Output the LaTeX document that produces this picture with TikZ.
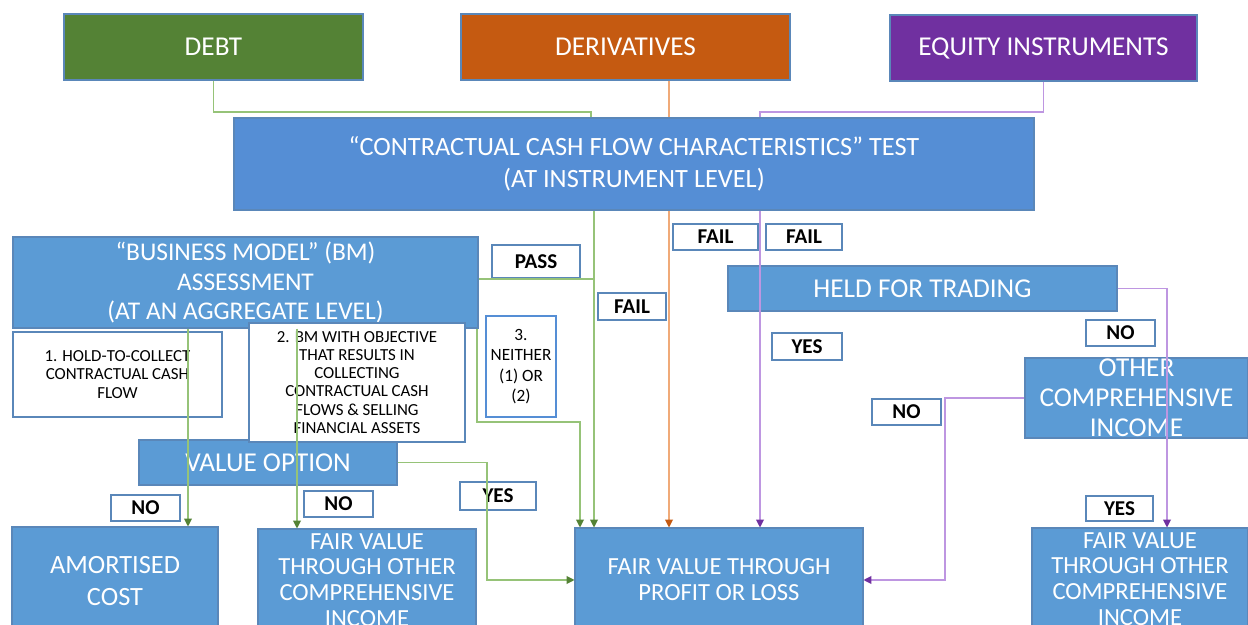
\documentclass[tikz,border=0pt]{standalone}
\usepackage{fontspec}
\setmainfont{Carlito}
\usetikzlibrary{arrows.meta}

\definecolor{debtgreen}{RGB}{84,130,53}
\definecolor{derivorange}{RGB}{197,90,17}
\definecolor{equitypurple}{RGB}{112,48,160}
\definecolor{boxblue}{RGB}{91,155,213}
\definecolor{testblue}{RGB}{85,142,213}
\definecolor{boxline}{RGB}{90,135,185}
\definecolor{greenline}{RGB}{150,195,120}
\definecolor{orangeline}{RGB}{240,170,120}
\definecolor{purpleline}{RGB}{190,150,225}

\tikzset{
  box/.style={draw=boxline, line width=0.6pt, fill=boxblue, text=white,
    inner sep=0pt, align=center},
  note/.style={draw=boxline, line width=0.6pt, fill=white, inner sep=0pt,
    align=center, font=\fontsize{9.6}{10.3}\selectfont},
  tag/.style={draw=boxline, line width=0.6pt, fill=white, inner sep=0pt,
    font=\bfseries\fontsize{12}{14}\selectfont},
  link/.style={line width=0.6pt},
}

\begin{document}
\begin{tikzpicture}
  \useasboundingbox (0,0) rectangle (24.96,12.5);
  \clip (0,0) rectangle (24.96,12.5);

  % instrument classes
  \node[box, fill=debtgreen, minimum width=5.98cm, minimum height=1.32cm,
    font=\fontsize{15.5}{18}\selectfont] (debt) at (4.27,11.56) {DEBT};
  \node[box, fill=derivorange, minimum width=6.58cm, minimum height=1.32cm,
    font=\fontsize{15.5}{18}\selectfont] (deriv) at (12.51,11.56) {DERIVATIVES};
  \node[box, fill=equitypurple, minimum width=6.14cm, minimum height=1.32cm,
    font=\fontsize{15.5}{18}\selectfont] (equity) at (20.87,11.54) {EQUITY INSTRUMENTS};

  % tests
  \node[box, fill=testblue, minimum width=16cm, minimum height=1.84cm,
    font=\fontsize{15}{18.2}\selectfont] (ccfc) at (12.68,9.22)
    {“CONTRACTUAL CASH FLOW CHARACTERISTICS” TEST\\(AT INSTRUMENT LEVEL)};
  \node[box, minimum width=9.3cm, minimum height=1.82cm,
    font=\fontsize{14.5}{17}\selectfont] (bm) at (4.91,6.85)
    {“BUSINESS MODEL” (BM)\\ASSESSMENT\\(AT AN AGGREGATE LEVEL)};
  \node[box, minimum width=7.78cm, minimum height=0.9cm,
    font=\fontsize{15.5}{18}\selectfont] (hft) at (18.45,6.73) {HELD FOR TRADING};
  \node[box, minimum width=4.46cm, minimum height=1.6cm,
    font=\fontsize{15.5}{17}\selectfont] (oci) at (22.73,4.54)
    {OTHER\\COMPREHENSIVE\\INCOME};
  \node[box, minimum width=5.16cm, minimum height=0.9cm,
    font=\fontsize{15.5}{18}\selectfont] (vo) at (5.36,3.25) {VALUE OPTION};

  % business models
  \node[note, minimum width=4.18cm, minimum height=1.7cm] (hold) at (2.35,5.01)
    {1. HOLD-TO-COLLECT\\CONTRACTUAL CASH\\FLOW};
  \node[note, minimum width=4.32cm, minimum height=2.38cm] (both) at (7.14,4.85)
    {2. BM WITH OBJECTIVE\\THAT RESULTS IN\\COLLECTING\\CONTRACTUAL CASH\\FLOWS \& SELLING\\FINANCIAL ASSETS};
  \node[note, draw=testblue, line width=1.2pt, minimum width=1.4cm,
    minimum height=2.02cm, font=\fontsize{9.8}{11.6}\selectfont] (neither)
    at (10.42,5.17) {3.\\NEITHER\\(1) OR\\(2)};

  % outcomes
  \node[box, minimum width=4.12cm, minimum height=2.16cm,
    font=\fontsize{15}{18}\selectfont] (amort) at (2.30,0.88) {AMORTISED\\COST};
  \node[box, minimum width=4.36cm, minimum height=2.04cm,
    font=\fontsize{14}{14.7}\selectfont] (fvoci) at (7.34,0.90)
    {FAIR VALUE\\THROUGH OTHER\\COMPREHENSIVE\\INCOME};
  \node[box, minimum width=5.76cm, minimum height=2.08cm,
    font=\fontsize{14}{14.7}\selectfont] (fvtpl) at (14.38,0.90)
    {FAIR VALUE THROUGH\\PROFIT OR LOSS};
  \node[box, minimum width=4.32cm, minimum height=2.04cm,
    font=\fontsize{14}{14.7}\selectfont] (fvocir) at (22.80,0.92)
    {FAIR VALUE\\THROUGH OTHER\\COMPREHENSIVE\\INCOME};

  % answers
  \node[tag, minimum width=1.76cm, minimum height=0.66cm] (pass) at (10.72,7.27) {PASS};
  \node[tag, minimum width=1.36cm, minimum height=0.54cm] (faildebt) at (12.64,6.37) {FAIL};
  \node[tag, minimum width=1.70cm, minimum height=0.52cm] (failderiv) at (14.31,7.76) {FAIL};
  \node[tag, minimum width=1.52cm, minimum height=0.52cm] (failequity) at (16.08,7.76) {FAIL};
  \node[tag, minimum width=1.38cm, minimum height=0.52cm] (hftno) at (22.41,5.84) {NO};
  \node[tag, minimum width=1.40cm, minimum height=0.54cm] (hftyes) at (16.14,5.57) {YES};
  \node[tag, minimum width=1.38cm, minimum height=0.52cm] (ocino) at (18.13,4.26) {NO};
  \node[tag, minimum width=1.38cm, minimum height=0.52cm] (holdno) at (2.91,2.34) {NO};
  \node[tag, minimum width=1.38cm, minimum height=0.52cm] (bothno) at (6.77,2.42) {NO};
  \node[tag, minimum width=1.52cm, minimum height=0.56cm] (voyes) at (9.96,2.58) {YES};
  \node[tag, minimum width=1.34cm, minimum height=0.50cm] (ociyes) at (22.39,2.33) {YES};

  % bends and drop lines
  \coordinate (jdebt) at (11.82,10.26);
  \coordinate (jequity) at (15.20,10.26);
  \coordinate (jpass) at (11.88,6.92);
  \coordinate (jneither) at (9.54,4.06);
  \coordinate (jdrop) at (11.60,4.06);
  \coordinate (xhold) at (3.76,0);
  \coordinate (xboth) at (5.94,0);
  \coordinate (xvo) at (9.74,0);
  \coordinate (xderiv) at (13.38,0);
  \coordinate (xtrade) at (23.34,0);
  \coordinate (xoci) at (18.90,0);

  \begin{scope}[link, draw=greenline,
      -{Triangle[length=4.5pt,width=4.5pt,color=debtgreen]}]
    \draw[-] (debt.south) |- (jdebt) -- (jdebt |- ccfc.north);
    \draw (ccfc.south -| jpass) -- (fvtpl.north -| jpass);
    \draw[-] (bm.east |- jpass) -- (jpass);
    \draw (bm.south -| jneither) |- (jdrop) -- (fvtpl.north -| jdrop);
    \draw (bm.south -| xhold) -- (amort.north -| xhold);
    \draw (bm.south -| xboth) -- (fvoci.north -| xboth);
    \draw (vo.east) -- (vo.east -| xvo) |- (fvtpl.west);
  \end{scope}

  \begin{scope}[link, draw=orangeline,
      -{Triangle[length=4.5pt,width=4.5pt,color=derivorange]}]
    \draw[-] (deriv.south -| xderiv) -- (ccfc.north -| xderiv);
    \draw (ccfc.south -| xderiv) -- (fvtpl.north -| xderiv);
  \end{scope}

  \begin{scope}[link, draw=purpleline,
      -{Triangle[length=4.5pt,width=4.5pt,color=equitypurple]}]
    \draw[-] (equity.south) |- (jequity) -- (jequity |- ccfc.north);
    \draw (ccfc.south -| jequity) -- (fvtpl.north -| jequity);
    \draw (hft.east) -| (fvocir.north -| xtrade);
    \draw (oci.west) -- (oci.west -| xoci) |- (fvtpl.east);
  \end{scope}
\end{tikzpicture}
\end{document}
